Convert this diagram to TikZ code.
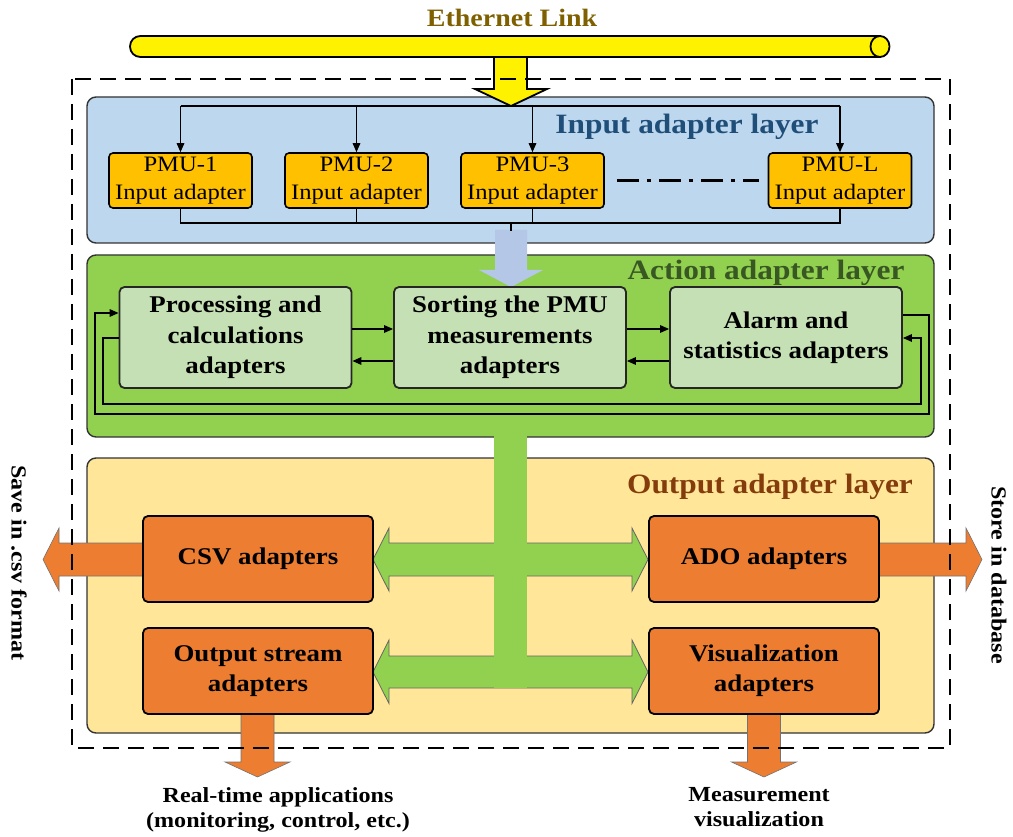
\documentclass[tikz,border=0pt]{standalone}
\usepackage{fontspec}
\setmainfont{Liberation Serif}[FakeStretch=1.12]
\usetikzlibrary{arrows.meta,calc}
\definecolor{ethc}{HTML}{7F6000}
\definecolor{inl}{HTML}{BDD7EE}
\definecolor{inlt}{HTML}{1F4E79}
\definecolor{pmuc}{HTML}{FFC000}
\definecolor{lblue}{HTML}{B4C7E7}
\definecolor{actl}{HTML}{92D050}
\definecolor{actt}{HTML}{385723}
\definecolor{actb}{HTML}{C5E0B4}
\definecolor{outl}{HTML}{FFE699}
\definecolor{outt}{HTML}{843C0C}
\definecolor{orng}{HTML}{ED7D31}
\tikzset{
 layer/.style={draw=black!80, line width=1.4pt, rounded corners=9pt, minimum width=847pt, inner sep=0pt},
 pmubox/.style={draw=black, line width=1.6pt, fill=pmuc, rounded corners=4pt, minimum width=143pt, minimum height=55pt, inner sep=0pt, align=center, font=\fontsize{22}{28}\selectfont},
 actbox/.style={draw=black!85, line width=1.8pt, fill=actb, rounded corners=5pt, minimum width=232pt, minimum height=101pt, inner sep=0pt, align=center, font=\bfseries\fontsize{24}{30.5}\selectfont},
 outbox/.style={draw=black, line width=1.8pt, fill=orng, rounded corners=5pt, minimum width=230pt, minimum height=86pt, inner sep=0pt, align=center, font=\bfseries\fontsize{24}{30}\selectfont},
 title/.style={font=\bfseries\fontsize{28}{32}\selectfont, anchor=base, inner sep=0pt},
 lbl/.style={font=\bfseries\fontsize{21.5}{25}\selectfont, align=center, inner sep=0pt},
 arr/.style={line width=1.5pt, -{Triangle[length=9pt,width=7.5pt]}},
 wire/.style={line width=1.5pt},
 fatout/.style={draw=black!55, line width=0.6pt},
 fatgreen/.style={fill=actl, draw=black!60, line width=0.8pt},
}
\begin{document}
\begin{tikzpicture}[x=1pt,y=-1pt]
\useasboundingbox (0,0) rectangle (1013,837);
% layers
\node[layer, fill=inl, minimum height=146pt] (inlayer) at (510.5,170) {};
\node[layer, fill=actl, minimum height=182pt] (actlayer) at (510.5,346) {};
\node[layer, fill=outl, minimum height=275pt] (outlayer) at (510.5,595.5) {};
% green double arrows and trunk
\draw[fatgreen] (389,543) -- (389,528) -- (373,559.5) -- (389,591) -- (389,576) -- (632,576) -- (632,591) -- (648,559.5) -- (632,528) -- (632,543) -- cycle;
\draw[fatgreen] (389,656) -- (389,640) -- (373,672) -- (389,703.5) -- (389,688) -- (632,688) -- (632,703.5) -- (648,672) -- (632,640) -- (632,656) -- cycle;
\fill[actl] (494,436) rectangle (527,688.4);
% light blue arrow
\fill[lblue] (495,230) -- (495,270) -- (479,270) -- (511,287) -- (543,270) -- (527,270) -- (527,230) -- cycle;
% yellow arrow and ethernet cable
\draw[fill=yellow, line width=1.8pt] (494,50) -- (494,89) -- (475,89) -- (511,106) -- (547,89) -- (527,89) -- (527,50);
\draw[fill=yellow, line width=1.8pt, rounded corners=10.4pt] (880,36) -- (130,36) -- (130,57) -- (880,57);
\draw[fill=yellow, line width=1.8pt] (880,46.5) ellipse [x radius=9.5, y radius=10.5];
% orange arrows
\draw[fill=orng, fatout] (143,543) -- (59,543) -- (59,528) -- (43,559.5) -- (59,591) -- (59,576) -- (143,576);
\draw[fill=orng, fatout] (880,543) -- (966,543) -- (966,528) -- (982,559.5) -- (966,591) -- (966,576) -- (880,576);
\draw[fill=orng, fatout] (241,714) -- (241,762) -- (225,762) -- (257.5,777) -- (290,762) -- (274,762) -- (274,714);
\draw[fill=orng, fatout] (747.5,714) -- (747.5,762) -- (731.5,762) -- (764,777) -- (796.5,762) -- (780.5,762) -- (780.5,714);
% PMU boxes
\node[pmubox] (p1) at (180.5,180.5) {PMU-1\\Input adapter};
\node[pmubox] (p2) at (356.5,180.5) {PMU-2\\Input adapter};
\node[pmubox] (p3) at (532.5,180.5) {PMU-3\\Input adapter};
\node[pmubox] (pL) at (840,180.5) {PMU-L\\Input adapter};
% action boxes
\node[actbox] (a1) at (235.5,337.5) {Processing and\\calculations\\adapters};
\node[actbox] (a2) at (510,337.5) {Sorting the PMU\\measurements\\adapters};
\node[actbox] (a3) at (786,337.5) {Alarm and\\statistics adapters};
% output boxes
\node[outbox] (csv) at (258,559) {CSV adapters};
\node[outbox] (ado) at (764,559) {ADO adapters};
\node[outbox] (ostream) at (258,671) {Output stream\\adapters};
\node[outbox] (vis) at (764,671) {Visualization\\adapters};
% input bus
\coordinate (tb) at (511,106);
\coordinate (bb) at (511,223);
\coordinate (bbend) at (511,231);
\draw[wire] (p1.north |- tb) -- (pL.north |- tb);
\foreach \n in {p1,p2,p3,pL} \draw[arr] (\n.north |- tb) -- (\n.north);
\draw[wire] (p1.south) -- (p1.south |- bb) -- (pL.south |- bb) -- (pL.south);
\draw[wire] (p2.south) -- (p2.south |- bb);
\draw[wire] (p3.south) -- (p3.south |- bb);
\draw[wire] (bb) -- (bbend);
\draw[line width=2.6pt, dash pattern=on 22pt off 8pt on 4pt off 8pt] ([xshift=12pt]p3.east) -- ([xshift=-9pt]pL.west);
% action connectors
\draw[arr] (a1.east |- 0,329) -- (a2.west |- 0,329);
\draw[arr] (a2.east |- 0,329) -- (a3.west |- 0,329);
\draw[arr] (a2.west |- 0,361) -- (a1.east |- 0,361);
\draw[arr] (a3.west |- 0,361) -- (a2.east |- 0,361);
\coordinate (lpo) at (95,414);
\coordinate (rpo) at (929,414);
\coordinate (lpi) at (103,404);
\coordinate (rpi) at (921,404);
\draw[arr] (a3.east |- 0,315) -| (rpo) -- (lpo) |- (a1.west |- 0,313);
\draw[arr] (a1.west |- 0,338) -| (lpi) -- (rpi) |- (a3.east |- 0,338);
% dashed frame
\draw[line width=2.7pt, dash pattern=on 16pt off 9pt] (72,79) rectangle (950,748);
% titles and labels
\node[title, text=ethc, font=\bfseries\fontsize{25}{30}\selectfont] (eth) at (512,27) {Ethernet Link};
\node[title, text=inlt] (intitle) at (687,134) {Input adapter layer};
\node[title, text=actt] (acttitle) at (766,280) {Action adapter layer};
\node[title, text=outt] (outtitle) at (770,493) {Output adapter layer};
\node[lbl, rotate=-90] (savecsv) at (19,563) {Save in .csv format};
\node[lbl, rotate=-90] (storedb) at (999,575) {Store in database};
\node[lbl] (rt) at (278,809.5) {Real-time applications\\(monitoring, control, etc.)};
\node[lbl] (mv) at (759,807.5) {Measurement\\visualization};
\end{tikzpicture}
\end{document}
